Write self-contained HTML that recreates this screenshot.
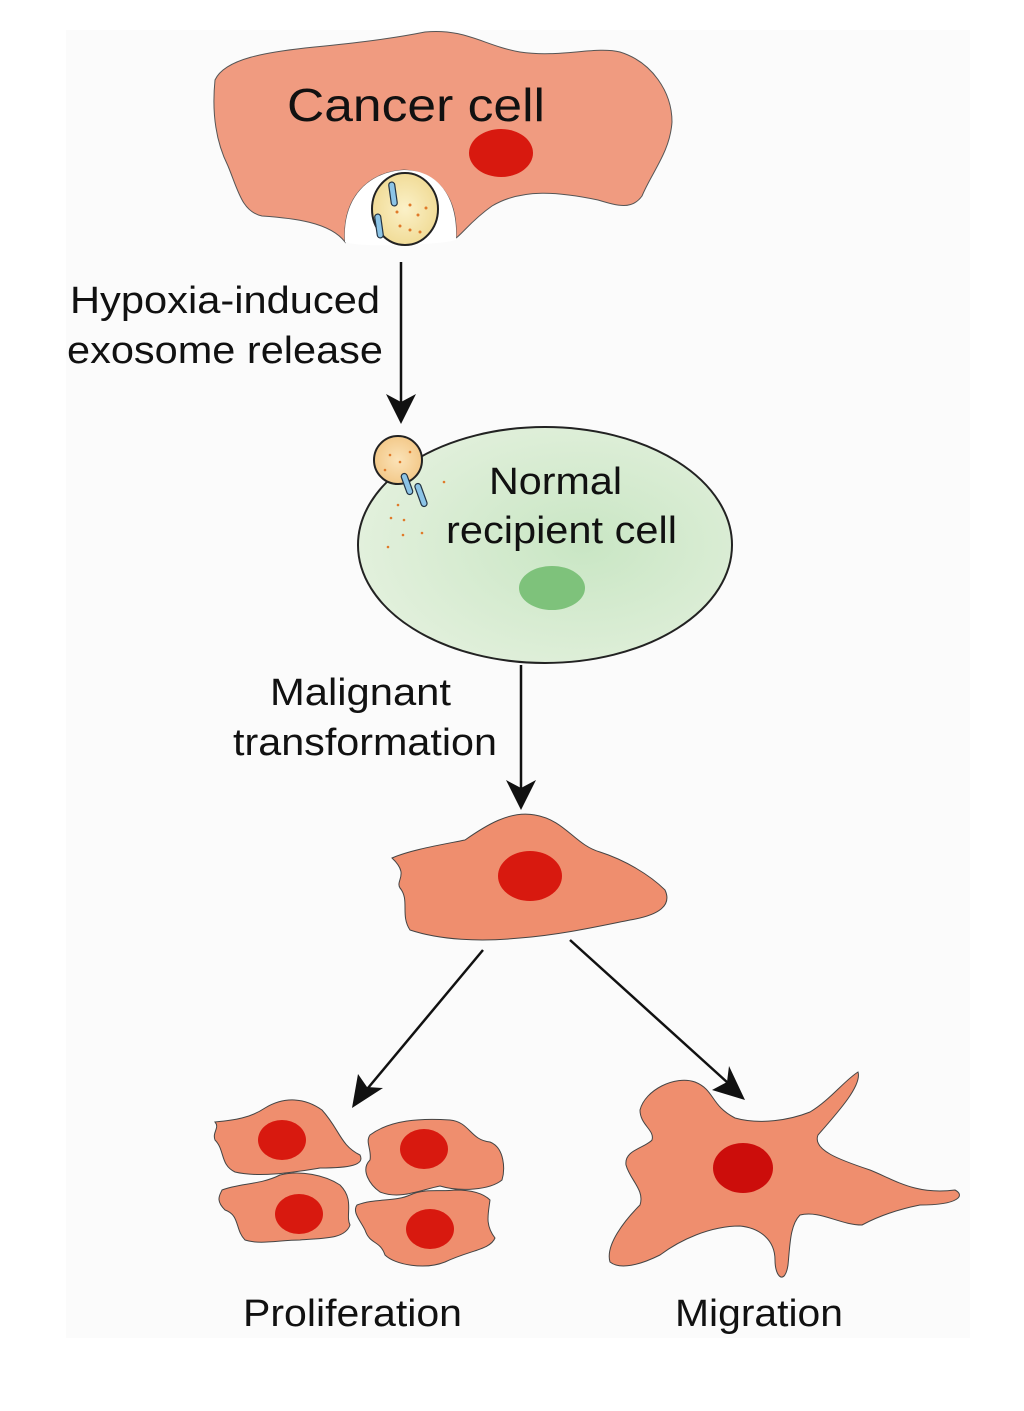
<!DOCTYPE html>
<html><head><meta charset="utf-8"><style>
html,body{margin:0;padding:0;background:#fff;}
svg{display:block;}
text{font-family:"Liberation Sans",Arial,sans-serif;fill:#111;}
</style></head><body>
<svg width="1024" height="1411" viewBox="0 0 1024 1411" xmlns="http://www.w3.org/2000/svg">
<defs>
<radialGradient id="gg" cx="0.6" cy="0.5" r="0.6"><stop offset="0" stop-color="#c9e6c4"/><stop offset="1" stop-color="#e2f0dc"/></radialGradient>
<radialGradient id="ex" cx="0.5" cy="0.5" r="0.5"><stop offset="0" stop-color="#fbf1c8"/><stop offset="1" stop-color="#f1dc98"/></radialGradient>
<radialGradient id="ex2" cx="0.5" cy="0.5" r="0.5"><stop offset="0" stop-color="#fbe3b8"/><stop offset="1" stop-color="#f3c98a"/></radialGradient>
</defs>
<rect x="66" y="30" width="904" height="1308" fill="#fbfbfb"/>

<!-- Cancer cell -->
<path d="M215,80 C225,58 270,52 305,48 C345,44 385,40 425,32 C465,28 485,46 520,52 C560,58 595,46 620,52 C652,62 672,92 672,122 C670,152 652,172 642,196 C632,210 618,206 598,200 C560,192 522,188 492,206 C472,220 462,234 456,238 C458,200 440,172 404,170 C368,172 342,198 345,242 C330,222 292,218 262,216 C242,212 238,190 228,166 C215,140 212,110 215,80 Z" fill="#f09b80" stroke="#555" stroke-width="1"/>
<path d="M345,242 C342,198 368,172 404,170 C440,170 458,200 456,240 C440,245 360,248 345,242 Z" fill="#ffffff"/>
<ellipse cx="501" cy="153" rx="32" ry="24" fill="#d8190f"/>
<text x="287" y="121" font-size="46" textLength="258" lengthAdjust="spacingAndGlyphs">Cancer cell</text>
<!-- exosome -->
<ellipse cx="405" cy="209" rx="33" ry="36" fill="url(#ex)" stroke="#222" stroke-width="2"/>
<rect x="390" y="182" width="6" height="24" rx="3" fill="#8cc4e6" stroke="#234" stroke-width="1.2" transform="rotate(-8 393 194)"/>
<rect x="376" y="214" width="6" height="24" rx="3" fill="#8cc4e6" stroke="#234" stroke-width="1.2" transform="rotate(-8 379 226)"/>
<g fill="#e07a2a"><circle cx="397" cy="212" r="1.5"/><circle cx="410" cy="205" r="1.5"/><circle cx="418" cy="215" r="1.5"/><circle cx="426" cy="208" r="1.5"/><circle cx="400" cy="226" r="1.5"/><circle cx="410" cy="230" r="1.5"/><circle cx="420" cy="232" r="1.5"/></g>

<!-- arrow 1 -->
<line x1="401" y1="262" x2="401" y2="405" stroke="#111" stroke-width="2.5"/>
<path d="M386,394 L401,424 L416,394 L401,402 Z" fill="#111"/>
<text x="70" y="313" font-size="38" textLength="310" lengthAdjust="spacingAndGlyphs">Hypoxia-induced</text>
<text x="67" y="363" font-size="38" textLength="316" lengthAdjust="spacingAndGlyphs">exosome release</text>

<!-- Normal cell -->
<ellipse cx="545" cy="545" rx="187" ry="118" fill="url(#gg)" stroke="#222" stroke-width="2"/>
<ellipse cx="552" cy="588" rx="33" ry="22" fill="#7ec27b"/>
<text x="489" y="494" font-size="38" textLength="133" lengthAdjust="spacingAndGlyphs">Normal</text>
<text x="446" y="543" font-size="38" textLength="231" lengthAdjust="spacingAndGlyphs">recipient cell</text>
<circle cx="398" cy="460" r="24" fill="url(#ex2)" stroke="#222" stroke-width="2"/>
<rect x="404" y="473" width="6" height="22" rx="3" fill="#8cc4e6" stroke="#234" stroke-width="1.2" transform="rotate(-20 407 484)"/>
<rect x="418" y="483" width="6" height="24" rx="3" fill="#8cc4e6" stroke="#234" stroke-width="1.2" transform="rotate(-20 421 495)"/>
<g fill="#e07a2a"><circle cx="390" cy="455" r="1.3"/><circle cx="400" cy="462" r="1.3"/><circle cx="410" cy="452" r="1.3"/><circle cx="385" cy="470" r="1.3"/><circle cx="398" cy="505" r="1.3"/><circle cx="391" cy="518" r="1.3"/><circle cx="404" cy="520" r="1.3"/><circle cx="403" cy="535" r="1.3"/><circle cx="422" cy="533" r="1.3"/><circle cx="388" cy="547" r="1.3"/><circle cx="444" cy="482" r="1.3"/></g>

<!-- arrow 2 -->
<line x1="521" y1="665" x2="521" y2="790" stroke="#111" stroke-width="2.5"/>
<path d="M506,780 L521,810 L536,780 L521,788 Z" fill="#111"/>
<text x="270" y="705" font-size="38" textLength="181" lengthAdjust="spacingAndGlyphs">Malignant</text>
<text x="233" y="755" font-size="38" textLength="264" lengthAdjust="spacingAndGlyphs">transformation</text>

<!-- middle cell -->
<path d="M392,858 C410,850 440,845 465,840 C485,826 510,810 535,815 C565,820 575,845 600,852 C625,860 650,875 665,890 C672,905 660,915 630,920 C600,926 560,935 520,938 C480,942 440,940 410,930 C400,915 410,900 400,888 C395,880 410,875 392,858 Z" fill="#ef8e6e" stroke="#444" stroke-width="1"/>
<ellipse cx="530" cy="876" rx="32" ry="25" fill="#d8190f"/>

<!-- diag arrows -->
<line x1="483" y1="950" x2="368" y2="1088" stroke="#111" stroke-width="2.5"/>
<path d="M352,1108 L358,1074 L367,1087 L383,1088 Z" fill="#111"/>
<line x1="570" y1="940" x2="728" y2="1083" stroke="#111" stroke-width="2.5"/>
<path d="M745,1100 L712,1090 L727,1082 L729,1066 Z" fill="#111"/>

<!-- proliferation cells -->
<g fill="#ef8e6e" stroke="#444" stroke-width="1">
<path d="M215,1122 C235,1120 250,1118 265,1108 C285,1096 305,1098 322,1110 C340,1130 340,1145 360,1155 C365,1165 350,1168 320,1168 C295,1172 260,1178 235,1172 C220,1165 225,1150 215,1140 C212,1132 220,1128 215,1122 Z"/>
<path d="M370,1135 C390,1120 420,1118 450,1120 C470,1122 470,1140 490,1142 C505,1148 505,1170 502,1180 C490,1190 460,1192 440,1186 C420,1190 400,1200 380,1192 C370,1185 360,1170 370,1160 C372,1150 365,1142 370,1135 Z"/>
<path d="M222,1190 C240,1183 260,1185 280,1175 C300,1170 325,1175 340,1185 C355,1200 345,1215 350,1225 C345,1240 320,1238 300,1240 C280,1240 260,1245 245,1240 C235,1230 240,1215 225,1210 C215,1200 220,1195 222,1190 Z"/>
<path d="M357,1205 C375,1198 395,1202 410,1195 C425,1188 440,1192 455,1190 C475,1190 485,1195 490,1200 C488,1215 485,1225 495,1238 C490,1250 470,1250 445,1262 C425,1270 395,1265 385,1255 C380,1240 370,1245 365,1230 C360,1220 352,1212 357,1205 Z"/>
</g>
<g fill="#d8190f">
<ellipse cx="282" cy="1140" rx="24" ry="20"/>
<ellipse cx="424" cy="1149" rx="24" ry="20"/>
<ellipse cx="299" cy="1214" rx="24" ry="20"/>
<ellipse cx="430" cy="1229" rx="24" ry="20"/>
</g>

<!-- migration cell -->
<path d="M640,1110 C645,1090 675,1075 695,1082 C715,1090 710,1105 735,1118 C760,1125 790,1120 810,1112 C830,1100 845,1080 858,1072 C862,1085 840,1110 818,1135 C812,1150 840,1160 870,1170 C895,1180 915,1195 955,1190 C965,1195 960,1205 920,1205 C895,1210 875,1218 862,1225 C840,1225 820,1210 800,1215 C790,1225 790,1245 788,1265 C785,1285 775,1278 775,1260 C775,1240 760,1228 740,1226 C710,1226 680,1240 660,1255 C640,1265 620,1270 610,1262 C605,1245 625,1220 640,1205 C645,1190 630,1180 626,1165 C624,1150 645,1148 652,1140 C655,1130 640,1125 640,1110 Z" fill="#ef8e6e" stroke="#444" stroke-width="1"/>
<ellipse cx="743" cy="1168" rx="30" ry="25" fill="#cc0d0b"/>

<text x="243" y="1326" font-size="38" textLength="219" lengthAdjust="spacingAndGlyphs">Proliferation</text>
<text x="675" y="1326" font-size="38" textLength="168" lengthAdjust="spacingAndGlyphs">Migration</text>
</svg>
</body></html>
